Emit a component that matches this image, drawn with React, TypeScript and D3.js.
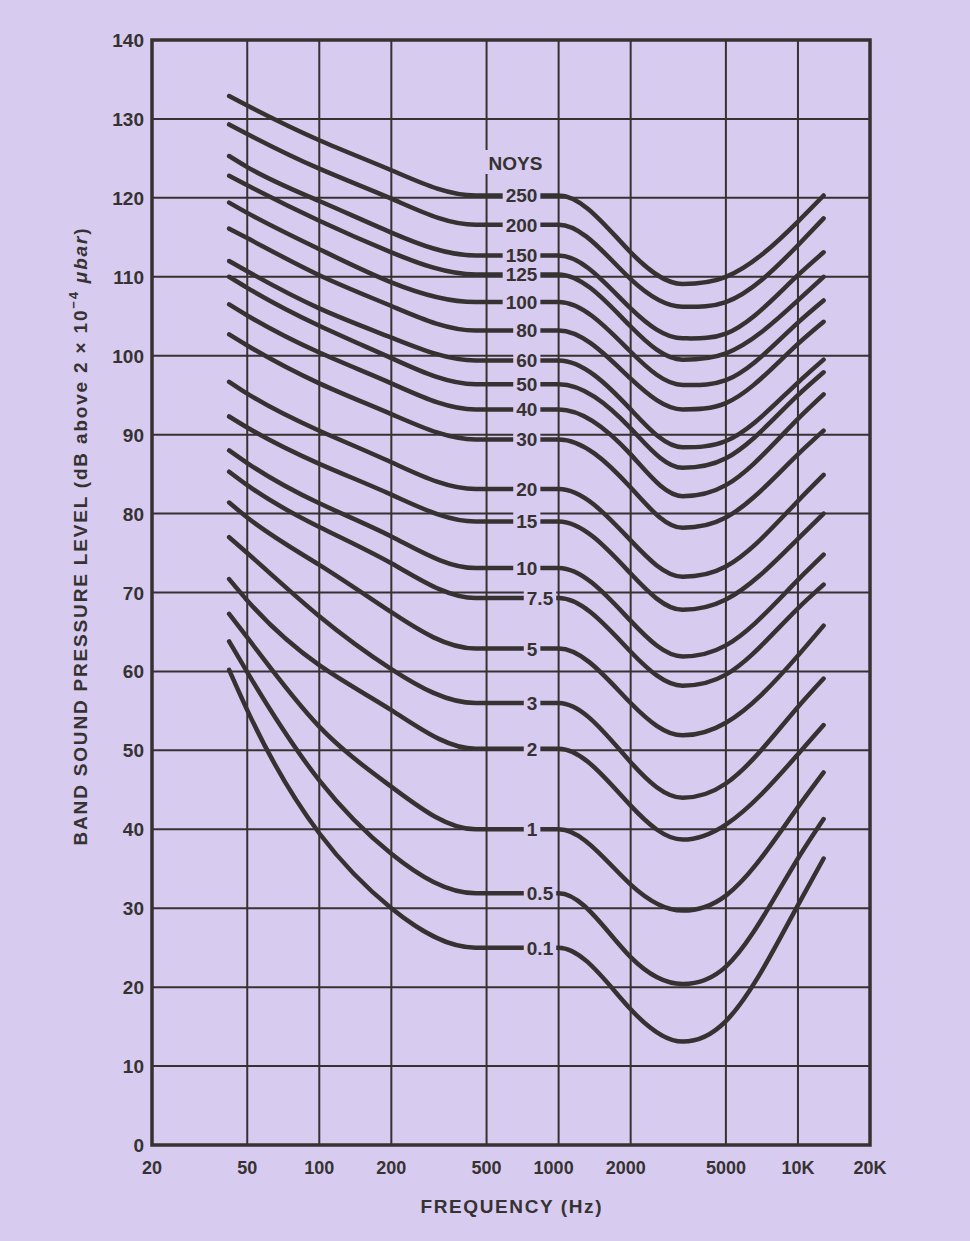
import React from "react";
import * as d3 from "d3";

// ---------- DATA ----------
const FREQ_TICKS = [20, 50, 100, 200, 500, 1000, 2000, 5000, 10000, 20000];
const FREQ_TICK_LABELS = ["20", "50", "100", "200", "500", "1000", "2000", "5000", "10K", "20K"];
const DB_TICKS = [0, 10, 20, 30, 40, 50, 60, 70, 80, 90, 100, 110, 120, 130, 140];

// frequencies (Hz) at which each contour was read
const CURVE_FREQS = [42, 50, 100, 200, 450, 1000, 2000, 3300, 5000, 10000, 12800];

const NOY_LABELS = ["250", "200", "150", "125", "100", "80", "60", "50", "40", "30", "20", "15", "10", "7.5", "5", "3", "2", "1", "0.5", "0.1"];

const N250 = [132.9, 131.7, 127.3, 123.5, 120.3, 120.3, 113.1, 109.1, 110.0, 117.0, 120.3];
const N200 = [129.3, 128.1, 123.7, 119.9, 116.6, 116.6, 109.7, 106.2, 106.8, 114.0, 117.4];
const N150 = [125.3, 123.9, 119.6, 115.6, 112.7, 112.7, 106.0, 102.2, 102.8, 110.2, 113.1];
const N125 = [122.8, 121.6, 117.1, 113.1, 110.3, 110.3, 103.7, 99.5, 100.3, 107.0, 110.0];
const N100 = [119.4, 118.1, 113.5, 109.3, 106.8, 106.8, 100.5, 96.3, 96.9, 104.2, 107.0];
const N80 = [116.1, 114.9, 110.2, 106.3, 103.2, 103.2, 97.1, 93.2, 94.0, 101.5, 104.3];
const N60 = [112.0, 110.7, 106.0, 102.3, 99.4, 99.4, 93.2, 88.4, 89.2, 96.6, 99.5];
const N50 = [110.0, 108.6, 103.8, 99.7, 96.4, 96.4, 90.8, 85.8, 87.0, 95.0, 97.9];
const N40 = [106.5, 105.1, 100.4, 96.5, 93.2, 93.2, 87.5, 82.2, 83.6, 92.0, 95.1];
const N30 = [102.7, 101.3, 96.5, 92.6, 89.4, 89.4, 83.3, 78.2, 79.5, 87.5, 90.5];
const N20 = [96.7, 95.2, 90.5, 86.5, 83.1, 83.1, 76.6, 72.0, 73.3, 81.6, 84.9];
const N15 = [92.3, 90.9, 86.3, 82.4, 79.0, 79.0, 72.4, 67.8, 69.1, 76.8, 80.0];
const N10 = [88.0, 86.4, 81.3, 77.1, 73.1, 73.1, 66.4, 61.9, 63.3, 71.6, 74.8];
const N7_5 = [85.3, 83.6, 78.3, 73.7, 69.3, 69.3, 62.5, 58.2, 59.6, 68.0, 71.0];
const N5 = [81.4, 79.5, 73.5, 67.5, 62.9, 62.9, 56.0, 51.9, 53.5, 62.0, 65.8];
const N3 = [77.0, 75.0, 67.0, 60.3, 56.0, 56.0, 48.5, 44.0, 45.8, 55.5, 59.1];
const N2 = [71.7, 69.0, 60.8, 55.1, 50.2, 50.2, 43.0, 38.7, 40.6, 49.5, 53.2];
const N1 = [67.3, 64.3, 53.0, 45.4, 40.0, 40.0, 33.0, 29.7, 31.6, 42.8, 47.2];
const N0_5 = [63.8, 59.9, 46.2, 36.9, 31.9, 31.9, 23.8, 20.4, 22.6, 36.3, 41.3];
const N0_1 = [60.2, 55.1, 39.5, 30.0, 25.0, 25.0, 17.2, 13.1, 15.7, 30.4, 36.3];

const CURVES = [N250, N200, N150, N125, N100, N80, N60, N50, N40, N30, N20, N15, N10, N7_5, N5, N3, N2, N1, N0_5, N0_1];

// ---------- LAYOUT ----------
const W = 970;
const H = 1241;
const M = { left: 152, right: 870, top: 40, bottom: 1145 };
const BG = "#d7cbef";
const INK = "#363232";
const FONT = "'Liberation Sans', Arial, Helvetica, sans-serif";
const LABEL_FS = 19;
const DIGIT = 0.556;
const DOT = 0.278;

// spline pieces: [startIndex, endIndex, startSlope|null, endSlope|null]
const PIECES: [number, number, number | null, number | null][] = [
  [0, 4, null, 0],
  [4, 5, 0, 0],
  [5, 7, 0, 0],
  [7, 10, 0, null],
];

// C2 cubic spline tangents (clamped or natural ends), solved with the Thomas algorithm
function splineSlopes(pts: [number, number][], m0: number | null, mN: number | null): number[] {
  const n = pts.length;
  const h: number[] = [];
  const s: number[] = [];
  for (let i = 0; i < n - 1; i++) {
    h.push(pts[i + 1][0] - pts[i][0]);
    s.push((pts[i + 1][1] - pts[i][1]) / h[i]);
  }
  const a = new Array(n).fill(0);
  const b = new Array(n).fill(0);
  const c = new Array(n).fill(0);
  const d = new Array(n).fill(0);
  if (m0 !== null) {
    b[0] = 1;
    d[0] = m0;
  } else {
    b[0] = 2;
    c[0] = 1;
    d[0] = 3 * s[0];
  }
  for (let i = 1; i < n - 1; i++) {
    a[i] = h[i];
    b[i] = 2 * (h[i - 1] + h[i]);
    c[i] = h[i - 1];
    d[i] = 3 * (h[i] * s[i - 1] + h[i - 1] * s[i]);
  }
  if (mN !== null) {
    b[n - 1] = 1;
    d[n - 1] = mN;
  } else {
    a[n - 1] = 1;
    b[n - 1] = 2;
    d[n - 1] = 3 * s[n - 2];
  }
  for (let i = 1; i < n; i++) {
    const w = a[i] / b[i - 1];
    b[i] -= w * c[i - 1];
    d[i] -= w * d[i - 1];
  }
  const m = new Array(n).fill(0);
  m[n - 1] = d[n - 1] / b[n - 1];
  for (let i = n - 2; i >= 0; i--) m[i] = (d[i] - c[i] * m[i + 1]) / b[i];
  return m;
}

function curvePath(pts: [number, number][]): string {
  const p = d3.path();
  p.moveTo(pts[0][0], pts[0][1]);
  PIECES.forEach(([i0, i1, s0, s1]) => {
    const sub = pts.slice(i0, i1 + 1);
    const m = splineSlopes(sub, s0, s1);
    for (let i = 0; i < sub.length - 1; i++) {
      const dx = (sub[i + 1][0] - sub[i][0]) / 3;
      p.bezierCurveTo(
        sub[i][0] + dx,
        sub[i][1] + m[i] * dx,
        sub[i + 1][0] - dx,
        sub[i + 1][1] - m[i + 1] * dx,
        sub[i + 1][0],
        sub[i + 1][1]
      );
    }
  });
  return p.toString();
}

export default function App() {
  const x = d3.scaleLog().domain([20, 20000]).range([M.left, M.right]);
  const y = d3.scaleLinear().domain([0, 140]).range([M.bottom, M.top]);

  const labelX = x(815);

  return (
    <div style={{ position: "absolute", left: 0, top: 0 }}>
      <svg width={W} height={H} style={{ display: "block" }} fontFamily={FONT}>
        <rect x={0} y={0} width={W} height={H} fill={BG} />

        {/* grid */}
        <g stroke={INK} strokeWidth={2}>
          {DB_TICKS.map((t) => (
            <line key={"h" + t} x1={M.left} x2={M.right} y1={y(t)} y2={y(t)} />
          ))}
          {FREQ_TICKS.map((f) => (
            <line key={"v" + f} x1={x(f)} x2={x(f)} y1={M.top} y2={M.bottom} />
          ))}
        </g>
        <rect
          x={M.left}
          y={M.top}
          width={M.right - M.left}
          height={M.bottom - M.top}
          fill="none"
          stroke={INK}
          strokeWidth={3.5}
        />

        {/* contours */}
        <g fill="none" stroke={INK} strokeWidth={4.5} strokeLinecap="round" strokeLinejoin="round">
          {CURVES.map((vals, i) => (
            <path
              key={"c" + i}
              d={curvePath(CURVE_FREQS.map((f, j) => [x(f), y(vals[j])] as [number, number]))}
            />
          ))}
        </g>

        {/* contour labels (decimal aligned) */}
        <g fontSize={LABEL_FS} fontWeight={700} fill={INK}>
          {NOY_LABELS.map((lab, i) => {
            const yy = y(CURVES[i][5]);
            const parts = lab.split(".");
            const intW = parts[0].length * DIGIT * LABEL_FS;
            const fracW = parts.length > 1 ? (DOT + parts[1].length * DIGIT) * LABEL_FS : 0;
            const x0 = labelX - intW;
            return (
              <g key={"l" + lab}>
                <rect x={x0 - 3} y={yy - 10} width={intW + fracW + 6} height={20} fill={BG} />
                <text x={x0} y={yy + 7}>
                  {lab}
                </text>
              </g>
            );
          })}
          <rect x={x(500) - 3} y={150} width={64} height={24} fill={BG} />
          <text x={x(500) + 2} y={170}>
            NOYS
          </text>
        </g>

        {/* y tick labels */}
        <g fontSize={19} fontWeight={700} fill={INK} textAnchor="end">
          {DB_TICKS.map((t) => (
            <text key={"yt" + t} x={144} y={y(t) + 7}>
              {t}
            </text>
          ))}
        </g>

        {/* x tick labels */}
        <g fontSize={18} fontWeight={700} fill={INK} textAnchor="middle">
          {FREQ_TICKS.map((f, i) => (
            <text key={"xt" + f} x={x(f) - (f >= 1000 && f <= 2000 ? 5 : 0)} y={1174}>
              {FREQ_TICK_LABELS[i]}
            </text>
          ))}
        </g>

        {/* axis titles */}
        <text
          x={511}
          y={1213}
          fontSize={19}
          fontWeight={700}
          fill={INK}
          textAnchor="middle"
          textLength={181}
          lengthAdjust="spacing"
        >
          FREQUENCY (Hz)
        </text>
        <text
          transform="translate(87,537) rotate(-90)"
          fontSize={19}
          fontWeight={700}
          fill={INK}
          textAnchor="middle"
          textLength={617}
          lengthAdjust="spacing"
        >
          BAND SOUND PRESSURE LEVEL (dB above 2 × 10
          <tspan fontSize={13} dy={-9}>
            −4
          </tspan>
          <tspan dy={9}> </tspan>
          <tspan fontStyle="italic">μbar</tspan>)
        </text>
      </svg>
    </div>
  );
}
